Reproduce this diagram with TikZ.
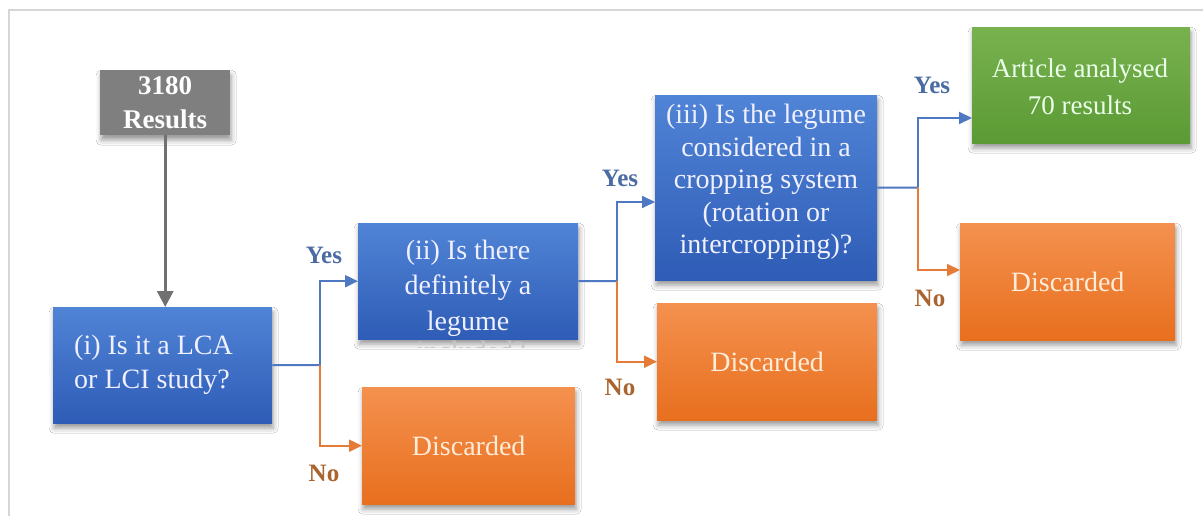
\documentclass[tikz,border=0pt]{standalone}
\usepackage{fontspec}
\setmainfont{Liberation Serif}
\usetikzlibrary{arrows.meta,shadows.blur,calc}

\definecolor{blueTop}{HTML}{5084D6}
\definecolor{blueBot}{HTML}{2E5CB6}
\definecolor{orangeTop}{HTML}{F4914F}
\definecolor{orangeBot}{HTML}{E86F1E}
\definecolor{greenTop}{HTML}{78B24F}
\definecolor{greenBot}{HTML}{5B9A34}
\definecolor{grayBox}{HTML}{7F7F7F}
\definecolor{lineBlue}{HTML}{4F78C2}
\definecolor{lineOrange}{HTML}{E57B36}
\definecolor{lineGray}{HTML}{707070}
\definecolor{yesCol}{HTML}{4A6BA3}
\definecolor{noCol}{HTML}{A9642F}
\definecolor{frameCol}{HTML}{D6D6D6}

\tikzset{
  x=1pt, y=-1pt,
  boxbase/.style={anchor=north west, inner sep=0pt, align=center,
    blur shadow={shadow xshift=1pt, shadow yshift=-5pt, shadow blur radius=5pt, shadow opacity=40}},
  bluebox/.style={boxbase, top color=blueTop, bottom color=blueBot},
  orangebox/.style={boxbase, top color=orangeTop, bottom color=orangeBot},
  greenbox/.style={boxbase, top color=greenTop, bottom color=greenBot},
  graybox/.style={boxbase, fill=grayBox},
  boxtext/.style={align=center, inner sep=0pt, text=white!94!blue,
    font=\fontsize{28}{34}\selectfont},
  disctext/.style={text=orange!15!white, font=\fontsize{28}{34}\selectfont},
  conn/.style={line width=2pt},
  tip/.style={-{Triangle[length=13pt,width=12pt]}},
  bigtip/.style={-{Triangle[length=16pt,width=16pt]}},
  yeslabel/.style={text=yesCol, font=\bfseries\fontsize{25}{30}\selectfont},
  nolabel/.style={text=noCol, font=\bfseries\fontsize{25}{30}\selectfont},
}

\begin{document}
\begin{tikzpicture}
\useasboundingbox (0,0) rectangle (1203,516);
\fill[white] (0,0) rectangle (1203,516);

% outer frame
\coordinate (fa) at (9,516);
\coordinate (fb) at (9,10);
\coordinate (fc) at (1203,10);
\draw[frameCol, line width=1.6pt] (fa) -- (fb) -- (fc);

% start box
\node[graybox, minimum width=130pt, minimum height=65pt,
      text=white, font=\bfseries\fontsize{27}{34}\selectfont] (start) at (100,70) {3180\\Results};

% question (i)
\node[bluebox, minimum width=219pt, minimum height=116pt] (q1) at (53,307) {};
\node[boxtext, align=left, anchor=west] (q1text) at (74,365) {(i) Is it a LCA\\or LCI study?};

% question (ii), its last line runs past the bottom edge
\node[bluebox, minimum width=220pt, minimum height=116pt] (q2) at (358,223) {};
\node[boxtext, font=\fontsize{28}{35.5}\selectfont] (q2text) at (468,288) {(ii) Is there\\definitely a\\legume};
\begin{scope}
  \clip (400,338.5) rectangle (560,347);
  \node[anchor=base, text=black!22, font=\fontsize{28}{34}\selectfont, inner sep=0pt] (q2over) at (471,360) {included?};
\end{scope}

% question (iii)
\node[bluebox, minimum width=222pt, minimum height=185pt] (q3) at (655,95) {};
\node[boxtext, font=\fontsize{28}{32.5}\selectfont] (q3text) at (766,182) {(iii) Is the legume\\considered in a\\cropping system\\(rotation or\\intercropping)?};

% outcome boxes
\node[greenbox, minimum width=218pt, minimum height=116pt] (res) at (972,27) {};
\node[boxtext, text=green!8!white, font=\fontsize{27}{37}\selectfont] (restext) at (1080,87) {Article analysed\\70 results};

\node[orangebox, minimum width=213pt, minimum height=117pt, disctext] (d1) at (362,387) {Discarded};
\node[orangebox, minimum width=220pt, minimum height=117pt, disctext] (d2) at (657,303) {Discarded};
\node[orangebox, minimum width=215pt, minimum height=117pt, disctext] (d3) at (960,223) {Discarded};

% branch points and arrow entry points
\coordinate (j1) at (320,365);
\coordinate (j2) at (617,281);
\coordinate (j3) at (918,187.5);
\coordinate (in3) at (655,202);
\coordinate (inres) at (972,118);
\coordinate (ind3) at (960,270);

% connectors
\draw[lineGray, line width=3pt, bigtip] (start.south) -- (start.south |- q1.north);

\draw[conn, lineBlue] (q1.east) -- (j1);
\draw[conn, lineBlue, tip] (j1) |- (q2.west);
\draw[conn, lineOrange, tip] (j1) |- (d1.west);

\draw[conn, lineBlue] (q2.east) -- (j2);
\draw[conn, lineBlue, tip] (j2) |- (in3);
\draw[conn, lineOrange, tip] (j2) |- (d2.west);

\draw[conn, lineBlue] (q3.east) -- (j3);
\draw[conn, lineBlue, tip] (j3) |- (inres);
\draw[conn, lineOrange, tip] (j3) |- (ind3);

% branch labels
\node[yeslabel] (y1) at (324,255) {Yes};
\node[nolabel] (n1) at (324,473) {No};
\node[yeslabel] (y2) at (620,178) {Yes};
\node[nolabel] (n2) at (620,387) {No};
\node[yeslabel] (y3) at (932,85) {Yes};
\node[nolabel] (n3) at (930,298) {No};
\end{tikzpicture}
\end{document}
